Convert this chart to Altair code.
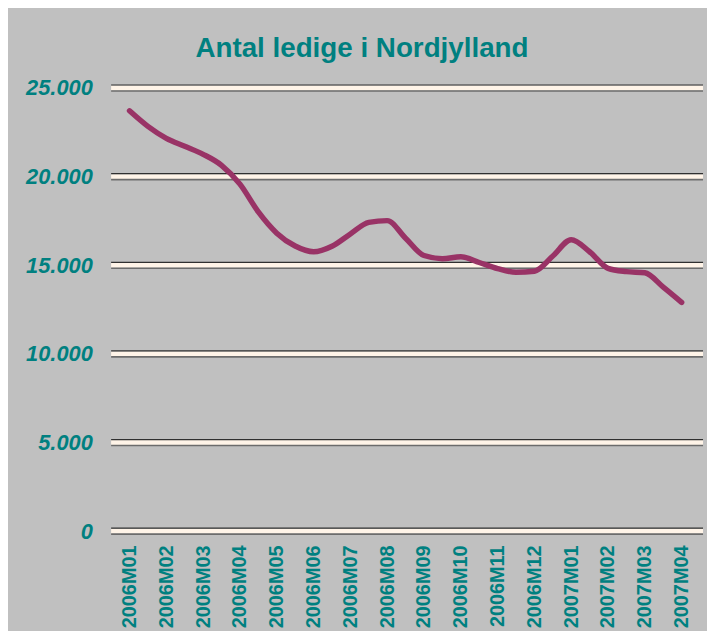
import altair as alt
import pandas as pd

# Month labels on the category axis
months = ["2006M01", "2006M02", "2006M03", "2006M04", "2006M05", "2006M06",
          "2006M07", "2006M08", "2006M09", "2006M10", "2006M11", "2006M12",
          "2007M01", "2007M02", "2007M03", "2007M04"]

ledige = [23714, 22836, 22160, 21712, 21259, 20638, 19576, 18009, 16813, 16085,
          15761, 16074, 16768, 17417, 17517, 16527, 15549, 15370, 15481, 15157,
          14810, 14603, 14665, 15521, 16443, 15761, 14827, 14642, 14575, 13764,
          12903]

y_ticks = [0, 5000, 10000, 15000, 20000, 25000]

title_text = "Antal ledige i Nordjylland"

TEAL = "#008080"
PLUM = "#993366"
FONT = "Liberation Sans, Arial"

df = pd.DataFrame({"idx": list(range(len(ledige))), "ledige": ledige})
grid_df = pd.DataFrame({"v": y_ticks})

label_array = "[" + ",".join(f"'{m}'" for m in months) + "]"
label_expr = label_array + "[round(datum.value/2)]"

x_enc = alt.X(
    "idx:Q",
    scale=alt.Scale(domain=[-1, 31], nice=False, zero=False),
    axis=alt.Axis(
        values=[2 * k for k in range(len(months))],
        labelExpr=label_expr,
        labelAngle=-90,
        labelAlign="right",
        labelBaseline="middle",
        labelFont=FONT,
        labelFontWeight="bold",
        labelFontSize=20,
        labelColor=TEAL,
        labelPadding=14,
        domain=False,
        ticks=False,
        grid=False,
        title=None,
        labelOverlap=False,
    ),
)

y_scale = alt.Scale(domain=[0, 25000], nice=False, zero=True)

y_axis = alt.Axis(
    values=y_ticks,
    labelExpr="replace(format(datum.value, ','), ',', '.')",
    labelFont=FONT,
    labelFontWeight="bold",
    labelFontStyle="italic",
    labelFontSize=22,
    labelColor=TEAL,
    labelPadding=19,
    domain=False,
    ticks=False,
    grid=False,
    title=None,
)

grid_band = alt.Chart(grid_df).mark_rule(color="#fff4e8", strokeWidth=5).encode(
    y=alt.Y("v:Q", scale=y_scale, axis=y_axis),
    x=alt.value(0), x2=alt.value(597),
)
grid_top = alt.Chart(grid_df).mark_rule(color="#303030", strokeWidth=1.2, yOffset=-3).encode(
    y=alt.Y("v:Q", scale=y_scale),
    x=alt.value(0), x2=alt.value(597),
)
grid_bot = alt.Chart(grid_df).mark_rule(color="#6c6c6c", strokeWidth=1.6, yOffset=3).encode(
    y=alt.Y("v:Q", scale=y_scale),
    x=alt.value(0), x2=alt.value(597),
)

line = alt.Chart(df).mark_line(
    color=PLUM, strokeWidth=5.5, interpolate="monotone", strokeCap="round", strokeJoin="round"
).encode(
    x=x_enc,
    y=alt.Y("ledige:Q", scale=y_scale),
)

title = alt.Chart(pd.DataFrame({"t": [title_text]})).mark_text(
    font=FONT, fontSize=28, fontWeight="bold", color=TEAL,
    align="center", baseline="alphabetic",
).encode(
    text="t:N",
    x=alt.value(253),
    y=alt.value(-31),
)

chart = alt.layer(grid_band, grid_top, grid_bot, line, title).properties(
    width=594,
    height=447,
    padding={"left": 104, "top": 78, "right": 7, "bottom": 98},
    autosize=alt.AutoSizeParams(type="none"),
    background="#c0c0c0",
).configure_view(stroke=None)

chart.save("out.html", embed_options={"renderer": "svg", "actions": False})
